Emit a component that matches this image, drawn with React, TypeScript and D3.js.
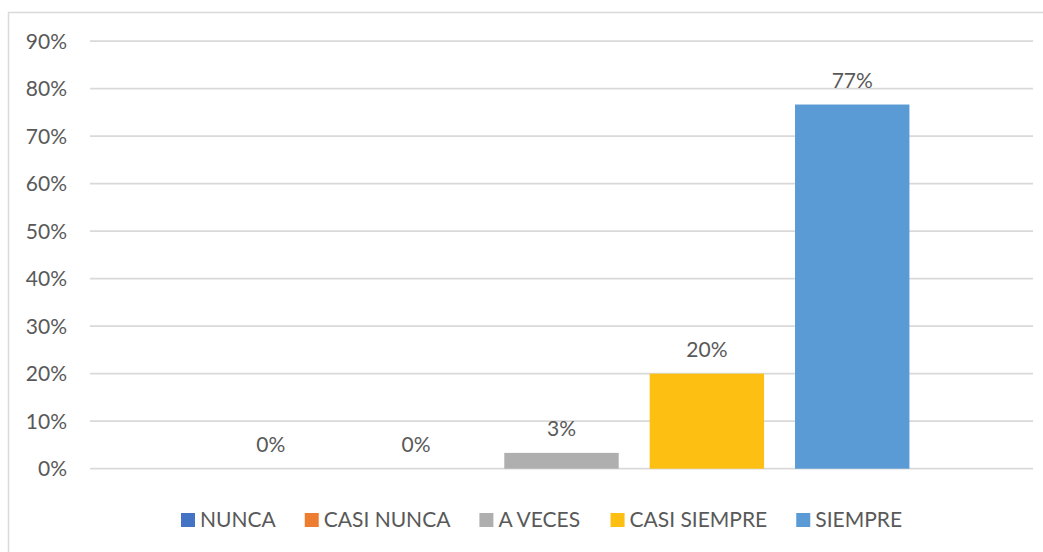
import React from "react";
import * as d3 from "d3";

const seriesNames = ["NUNCA", "CASI NUNCA", "A VECES", "CASI SIEMPRE", "SIEMPRE"];
const seriesValues = [0, 0, 3.33, 20, 76.67];
const seriesLabels = ["0%", "0%", "3%", "20%", "77%"];
const seriesColors = ["#4472C4", "#ED7D31", "#AFAFB0", "#FCBF12", "#5B9BD5"];
const yTicks = [0, 10, 20, 30, 40, 50, 60, 70, 80, 90];

const W = 1043;
const H = 552;
const FONT = "Lato, 'Open Sans', sans-serif";
const FS = 21;
const TEXT = "#595959";

function measure(text: string, size: number): number {
  const c = document.createElement("canvas");
  const ctx = c.getContext("2d");
  if (!ctx) return text.length * size * 0.55;
  ctx.font = `${size}px ${FONT}`;
  return ctx.measureText(text).width;
}

export default function App() {
  const plotLeft = 90;
  const plotRight = 1033;
  const y = d3.scaleLinear().domain([0, 90]).range([468.7, 41.2]);
  const x = d3
    .scaleBand<string>()
    .domain(seriesNames)
    .range([plotLeft, plotRight])
    .paddingInner(0.213)
    .paddingOuter(0.85);

  // legend layout
  const marker = 14;
  const gapMT = 5;
  const gapItem = 29;
  let lx = 181;
  const legendItems = seriesNames.map((n, i) => {
    const w = measure(n, FS);
    const item = { name: n, color: seriesColors[i], x: lx, w };
    lx += marker + gapMT + w + gapItem;
    return item;
  });

  return (
    <svg
      width={W}
      height={H}
      style={{ position: "absolute", left: 0, top: 0, background: "#fff" }}
      fontFamily={FONT}
    >
      <rect x={8.5} y={12.5} width={1100} height={600} fill="#fff" stroke="#d9d9d9" strokeWidth={1.5} />
      {yTicks.map((t) => (
        <g key={t}>
          <line x1={plotLeft} x2={plotRight} y1={y(t)} y2={y(t)} stroke="#d9d9d9" strokeWidth={1.8} />
          <text x={67} y={y(t)} dy="0.35em" textAnchor="end" fontSize={FS} fill={TEXT}>
            {t}%
          </text>
        </g>
      ))}
      {seriesNames.map((n, i) => (
        <rect
          key={n}
          x={x(n)}
          width={x.bandwidth()}
          y={y(seriesValues[i])}
          height={y(0) - y(seriesValues[i])}
          fill={seriesColors[i]}
        />
      ))}
      {seriesNames.map((n, i) => (
        <text
          key={n + "l"}
          x={(x(n) as number) + x.bandwidth() / 2}
          y={y(seriesValues[i]) - 17}
          textAnchor="middle"
          fontSize={FS}
          fill={TEXT}
        >
          {seriesLabels[i]}
        </text>
      ))}
      {legendItems.map((it) => (
        <g key={it.name}>
          <rect x={it.x} y={513} width={marker} height={marker} fill={it.color} />
          <text x={it.x + marker + gapMT} y={520} dy="0.35em" fontSize={FS} fill={TEXT}>
            {it.name}
          </text>
        </g>
      ))}
    </svg>
  );
}
